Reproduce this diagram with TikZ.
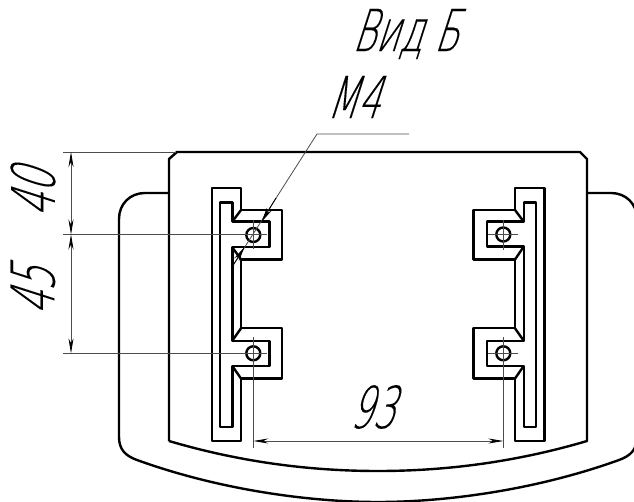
\documentclass[tikz,border=0pt]{standalone}
\usepackage{fontspec}
\usetikzlibrary{arrows.meta}
\newfontfamily\gostfont[FakeSlant=0.32,FakeStretch=0.61,FakeBold=0.12]{DejaVu Sans ExtraLight}
\newfontfamily\gostwide[FakeSlant=0.32,FakeStretch=0.63,FakeBold=0.12]{DejaVu Sans ExtraLight}
\tikzset{
  mainline/.style={line width=2.4pt,line join=round},
  thinline/.style={line width=0.8pt,black!70},
  dimline/.style={line width=0.8pt,black!70,{Stealth[length=15pt,width=5pt,black]}-{Stealth[length=15pt,width=5pt,black]}},
  leadarrow/.style={line width=0.8pt,black,-{Stealth[length=15pt,width=5.5pt]}},
  holecircle/.style={circle,draw,line width=2.4pt,minimum size=14pt,inner sep=0pt},
  bigtext/.style={font=\gostfont\fontsize{58}{58}\selectfont,inner sep=0pt},
  sidetext/.style={font=\gostwide\fontsize{60}{60}\selectfont,inner sep=0pt}
}
\begin{document}
\begin{tikzpicture}[x=1pt,y=-1pt]
 \useasboundingbox (0,0) rectangle (634,502);
 \clip (0,0) rectangle (634,502);

 % plate and body behind it
 \draw[mainline] (169,441)--(169,159)--(177,152)--(580,152)--(587,159)--(587,441)
   .. controls (516,462) and (446,471) .. (378,471)
   .. controls (310,471) and (240,462) .. (169,441);
 \draw[mainline] (169,193)--(145,193) .. controls (130,193) and (119,204) .. (119,219)--(119,437)
   .. controls (119,450) and (126,456) .. (137,460)
   .. controls (220,490) and (310,502) .. (378,502)
   .. controls (446,502) and (536,490) .. (619,460)
   .. controls (630,456) and (637,450) .. (637,437)--(637,219)
   .. controls (637,204) and (626,193) .. (611,193)--(587,193);

 % left bracket
 \draw[mainline] (232.3,366)--(269.3,366)--(269.3,340.7)--(232.3,340.7)
   --(232.3,247.3)--(269.3,247.3)--(269.3,221.7)--(232.3,221.7)--(232.3,202.7)--(220,202.7)--(220,426.7)--(232.3,426.7)--cycle;
 \draw[mainline] (241,328.3)--(281.7,328.3)--(281.7,378.5)--(241,378.5)--(241,440.7)--(211.7,440.7)--(211.7,188.3)--(241,188.3)--(241,210)--(281.7,210)--(281.7,259.5)--(241,259.5)--cycle;
 \draw[mainline] (241,210)--(232.3,221.7);
 \draw[mainline] (232.3,247.3)--(241,259.5);
 \draw[mainline] (232.3,340.7)--(241,328.3);
 \draw[mainline] (232.3,366)--(241,378.5);

 % right bracket
 \draw[mainline] (523.7,366)--(486.7,366)--(486.7,340.7)--(523.7,340.7)
   --(523.7,246.7)--(486.7,246.7)--(486.7,221.7)--(523.7,221.7)--(523.7,202.7)--(536,202.7)--(536,426.7)--(523.7,426.7)--cycle;
 \draw[mainline] (515,328.3)--(473.3,328.3)--(473.3,378.5)--(515,378.5)--(515,440.7)--(544.3,440.7)--(544.3,188.3)--(515,188.3)--(515,210)--(473.3,210)--(473.3,259.5)--(515,259.5)--cycle;
 \draw[mainline] (515,210)--(523.7,221.7);
 \draw[mainline] (523.7,246.7)--(515,259.5);
 \draw[mainline] (523.7,340.7)--(515,328.3);
 \draw[mainline] (523.7,366)--(515,378.5);

 % holes
 \node[holecircle] at (253.3,235) (holeA) {};
 \node[holecircle] at (253.3,353.3) (holeB) {};
 \node[holecircle] at (503.3,234.5) (holeC) {};
 \node[holecircle] at (503.3,353.3) (holeD) {};

 % end points of the thin lines
 \coordinate (topA) at (63,152);
 \coordinate (topB) at (176,152);
 \coordinate (midA) at (63,234.5);
 \coordinate (midB) at (267,234.5);
 \coordinate (lowA) at (63,353.3);
 \coordinate (lowB) at (267,353.3);
 \coordinate (dimTop) at (71,152);
 \coordinate (dimMid) at (71,234.5);
 \coordinate (dimLow) at (71,353.3);
 \coordinate (extA) at (253.3,337);
 \coordinate (extB) at (253.3,448);
 \coordinate (extC) at (503.3,337);
 \coordinate (extD) at (503.3,448);
 \coordinate (dimLeft) at (253.3,441);
 \coordinate (dimRight) at (503.3,441);
 \coordinate (crossAtop) at (253.3,220);
 \coordinate (crossAbot) at (253.3,249);
 \coordinate (crossCtop) at (503.3,220);
 \coordinate (crossCbot) at (503.3,250);
 \coordinate (crossCleft) at (488,234.5);
 \coordinate (crossCright) at (518,234.5);
 \coordinate (crossDleft) at (488,353.3);
 \coordinate (crossDright) at (518,353.3);
 \coordinate (leadEnd) at (409,134);
 \coordinate (leadKnee) at (317,134);
 \coordinate (leadFoot) at (233.3,265);
 \coordinate (arrowUp) at (276,198);
 \coordinate (arrowUpTip) at (261.5,222);
 \coordinate (arrowLowTip) at (244.5,247);

 \draw[thinline] (topA)--(topB);
 \draw[thinline] (midA)--(midB);
 \draw[thinline] (lowA)--(lowB);
 \draw[thinline] (extA)--(extB);
 \draw[thinline] (extC)--(extD);
 \draw[thinline] (crossAtop)--(crossAbot);
 \draw[thinline] (crossCtop)--(crossCbot);
 \draw[thinline] (crossCleft)--(crossCright);
 \draw[thinline] (crossDleft)--(crossDright);
 \draw[dimline] (dimTop)--(dimMid);
 \draw[dimline] (dimMid)--(dimLow);
 \draw[dimline] (dimLeft)--(dimRight);

 % leader of the thread
 \draw[thinline] (leadEnd)--(leadKnee)--(leadFoot);
 \draw[leadarrow] (arrowUp)--(arrowUpTip);
 \draw[leadarrow] (leadFoot)--(arrowLowTip);

 % texts
 \node[bigtext] at (405,34) (viewlabel) {Вид Б};
 \node[bigtext] at (353,97) (threadlabel) {М4};
 \node[sidetext,rotate=90] at (33,193.5) (dimforty) {40};
 \node[sidetext,rotate=90] at (33,291.5) (dimfortyfive) {45};
 \node[bigtext] at (372,407) (dimninetythree) {93};
\end{tikzpicture}
\end{document}
